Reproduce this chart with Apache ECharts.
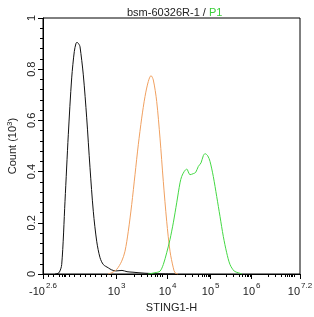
<!DOCTYPE html>
<html>
<head>
<meta charset="utf-8">
<script src="https://cdn.jsdelivr.net/npm/echarts@6/dist/echarts.min.js"></script>
<style>
  html, body { margin: 0; padding: 0; background: #fff; }
  #chart { width: 314px; height: 317px; }
</style>
</head>
<body>
<div id="chart"></div>
<script>
// x is the display position on the logicle scale (0 = -10^2.6, 257 = 10^7.2)
var blackX = [12, 16, 18.7, 22, 25.3, 28.7, 31.3, 33, 34, 36, 37, 40.3, 43.7, 47, 50.3, 53.7, 57, 60.3, 65.3, 68.7, 73, 79, 84, 90, 102, 115, 132];
var blackY = [0, 0.005, 0.037, 0.284, 0.544, 0.766, 0.869, 0.901, 0.905, 0.897, 0.888, 0.778, 0.61, 0.415, 0.245, 0.128, 0.064, 0.037, 0.024, 0.016, 0.012, 0.014, 0.009, 0.007, 0.003, 0.001, 0];

var orangeX = [65, 68.7, 73.7, 78.7, 82, 85.3, 88.7, 92, 95.3, 98.7, 102, 105.3, 108, 110.3, 113.7, 117, 120.3, 123.7, 127, 130.3, 132, 135];
var orangeY = [0, 0.005, 0.018, 0.05, 0.089, 0.167, 0.271, 0.388, 0.505, 0.609, 0.693, 0.752, 0.775, 0.758, 0.674, 0.531, 0.362, 0.206, 0.089, 0.024, 0.005, 0];

var greenX = [105, 112, 117, 120.3, 123.7, 127, 130.3, 133.7, 137, 138.7, 141.3, 143.7, 147, 150.3, 152.7, 155.3, 158, 160.3, 162, 164.7, 167, 170.3, 173.7, 177, 180.3, 183.7, 187, 191.3, 195.3, 199];
var greenY = [0, 0.005, 0.011, 0.037, 0.083, 0.135, 0.2, 0.278, 0.356, 0.381, 0.401, 0.41, 0.388, 0.392, 0.397, 0.42, 0.434, 0.462, 0.47, 0.462, 0.44, 0.381, 0.303, 0.225, 0.147, 0.083, 0.037, 0.011, 0.005, 0];

var majorTicks = [0, 73.7, 124.7, 167.7, 208.7, 257];
var majorLabels = ['-10|2.6', '10|3', '10|4', '10|5', '10|6', '10|7.2'];
var minorTicks = [5.25, 10.5, 15.75, 19.5, 21, 22.5, 26.25, 31.5, 36.75, 42, 47.25, 52.5, 57.75, 63, 68.25,
  91, 98.7, 104.7, 108.7, 112, 114.5, 117, 119.5,
  142, 149, 155, 159, 161.5, 163.5, 165, 166.3,
  183.7, 190, 196, 199.7, 202.3, 204.3, 205.7, 207,
  225, 232.7, 238.7, 242, 244.7, 246.7, 248.3, 249.7, 251];

function pairs(xs, ys) {
  return xs.map(function (x, i) { return [x, ys[i]]; });
}

var chart = echarts.init(document.getElementById('chart'));
var font = 'Liberation Sans, Arial, sans-serif';

chart.setOption({
  animation: false,
  title: {
    text: '{a|bsm-60326R-1 / }{b|P1}',
    left: 122,
    top: 2,
    textStyle: {
      fontWeight: 'normal',
      rich: {
        a: { fontFamily: font, fontSize: 11, fontWeight: 'normal', color: '#222' },
        b: { fontFamily: font, fontSize: 11, fontWeight: 'normal', color: '#3ccf3c' }
      }
    }
  },
  grid: { left: 43, right: 14, top: 18, bottom: 43, outerBoundsMode: 'none', show: true, borderColor: '#000', borderWidth: 1 },
  xAxis: [
    {
      type: 'value', min: 0, max: 257,
      name: 'STING1-H', nameLocation: 'middle', nameGap: 28,
      nameTextStyle: { fontFamily: font, fontSize: 11, color: '#222' },
      axisLine: { lineStyle: { color: '#000', width: 1 } },
      axisTick: { customValues: majorTicks, length: 5, lineStyle: { color: '#000' } },
      axisLabel: {
        customValues: majorTicks,
        margin: 6,
        formatter: function (v) {
          var i = majorTicks.indexOf(v);
          var p = majorLabels[i].split('|');
          return '{b|' + p[0] + '}{s|' + p[1] + '}';
        },
        rich: {
          b: { fontFamily: font, fontSize: 11, color: '#222', padding: [6, 0, 0, 0] },
          s: { fontFamily: font, fontSize: 8, color: '#222', padding: [0, 0, 6, 1] }
        }
      },
      splitLine: { show: false }
    },
    {
      type: 'value', min: 0, max: 257, position: 'bottom',
      axisLine: { show: false },
      axisTick: { customValues: minorTicks, length: 3, lineStyle: { color: '#000' } },
      axisLabel: { show: false },
      splitLine: { show: false }
    }
  ],
  yAxis: {
    type: 'value', min: 0, max: 1, interval: 0.2,
    name: '{a|Count (10}{s|3}{a|)}', nameLocation: 'middle', nameRotate: 90, nameGap: 23,
    nameTextStyle: {
      rich: {
        a: { fontFamily: font, fontSize: 11, color: '#222' },
        s: { fontFamily: font, fontSize: 8, color: '#222', padding: [0, 0, 6, 0] }
      }
    },
    axisLine: { show: true, lineStyle: { color: '#000', width: 1 } },
    axisTick: { show: true, length: 5, lineStyle: { color: '#000' } },
    minorTick: { show: true, splitNumber: 5, length: 3, lineStyle: { color: '#000' } },
    axisLabel: { rotate: 90, margin: 6, fontFamily: font, fontSize: 11, color: '#222' },
    splitLine: { show: false }
  },
  series: [
    { type: 'line', data: pairs(blackX, blackY), smooth: 0.3, showSymbol: false, lineStyle: { color: '#111', width: 1 } },
    { type: 'line', data: pairs(orangeX, orangeY), smooth: 0.3, showSymbol: false, lineStyle: { color: '#f0a060', width: 1 } },
    { type: 'line', data: pairs(greenX, greenY), smooth: 0.3, showSymbol: false, lineStyle: { color: '#44d844', width: 1 } }
  ]
});
</script>
</body>
</html>
